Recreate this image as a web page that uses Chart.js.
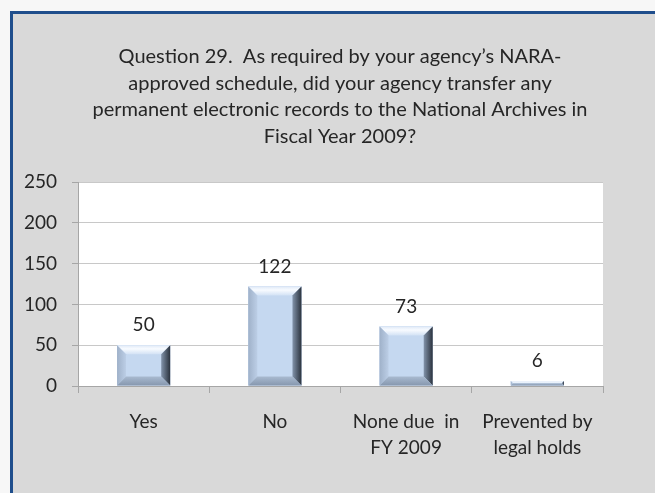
<!DOCTYPE html>
<html>
<head>
<meta charset="utf-8">
<script src="https://cdn.jsdelivr.net/npm/chart.js@4"></script>
<style>
  body { margin: 0; background: #f7f7f7; }
  #frame {
    position: absolute; left: 10px; top: 11px; width: 660px; height: 490px;
    background: #d9d9d9; border-top: 3px solid #1f4e8c; border-left: 3px solid #1f4e8c;
  }
  #wrap { position: absolute; left: 0; top: 0; width: 655px; height: 493px; }
</style>
</head>
<body>
<div id="frame"></div>
<div id="wrap"><canvas id="chart"></canvas></div>
<script>
const titleLines = [
  "Question 29.  As required by your agency\u2019s NARA-",
  "approved schedule, did your agency transfer any",
  "permanent electronic records to the National Archives in",
  "Fiscal Year 2009?"
];
const categories = ["Yes", "No", ["None due  in", "FY 2009"], ["Prevented by", "legal holds"]];
const counts = [50, 122, 73, 6];
const yTicks = [0, 50, 100, 150, 200, 250];

const FONT = "Lato, 'Open Sans', sans-serif";
const TEXT = "#262626";

// white plot area + title text centred on the frame
const plotBg = {
  id: "plotBg",
  beforeDraw(chart) {
    const { ctx, chartArea: a } = chart;
    ctx.save();
    ctx.fillStyle = "#ffffff";
    ctx.fillRect(a.left, a.top, a.right - a.left, a.bottom - a.top);
    ctx.fillStyle = TEXT;
    ctx.font = "20px " + FONT;
    ctx.textAlign = "center";
    ctx.textBaseline = "middle";
    titleLines.forEach((t, i) => ctx.fillText(t, 340, 57 + i * 26.4));
    ctx.restore();
  }
};

// bevelled bars + value labels
const bevel = {
  id: "bevel",
  afterDatasetsDraw(chart) {
    const ctx = chart.ctx;
    const meta = chart.getDatasetMeta(0);
    meta.data.forEach((bar, i) => {
      const p = bar.getProps(["x", "y", "base", "width"], true);
      const L = p.x - p.width / 2, R = p.x + p.width / 2, T = p.y, B = p.base;
      const h = B - T;
      const b = Math.min(9, h / 2, p.width / 2);
      ctx.save();
      ctx.fillStyle = "#c5d8f0";
      ctx.fillRect(L, T, R - L, h);
      const poly = (pts, fill) => {
        ctx.beginPath();
        ctx.moveTo(pts[0][0], pts[0][1]);
        pts.slice(1).forEach(q => ctx.lineTo(q[0], q[1]));
        ctx.closePath();
        ctx.fillStyle = fill;
        ctx.fill();
      };
      let g = ctx.createLinearGradient(0, T, 0, T + b);
      g.addColorStop(0, "#dfe9f7");
      g.addColorStop(0.4, "#f8fbff");
      g.addColorStop(1, "#d3e2f5");
      poly([[L, T], [R, T], [R - b, T + b], [L + b, T + b]], g);
      g = ctx.createLinearGradient(L, 0, L + b, 0);
      g.addColorStop(0, "#9fb1c9");
      g.addColorStop(1, "#bccee6");
      poly([[L, T], [L + b, T + b], [L + b, B - b], [L, B]], g);
      g = ctx.createLinearGradient(R - b, 0, R, 0);
      g.addColorStop(0, "#8293aa");
      g.addColorStop(1, "#2a323d");
      poly([[R, T], [R, B], [R - b, B - b], [R - b, T + b]], g);
      g = ctx.createLinearGradient(0, B - b, 0, B);
      g.addColorStop(0, "#a9bad0");
      g.addColorStop(1, "#8697ae");
      poly([[L, B], [R, B], [R - b, B - b], [L + b, B - b]], g);
      ctx.fillStyle = TEXT;
      ctx.font = "19px " + FONT;
      ctx.textAlign = "center";
      ctx.textBaseline = "middle";
      ctx.fillText(String(counts[i]), p.x, T - 20);
      ctx.restore();
    });
  }
};

new Chart(document.getElementById("chart"), {
  type: "bar",
  data: {
    labels: categories,
    datasets: [{
      data: counts,
      backgroundColor: "#c5d8f0",
      barPercentage: 0.405,
      categoryPercentage: 1
    }]
  },
  options: {
    responsive: true,
    maintainAspectRatio: false,
    animation: false,
    layout: { padding: { top: 182, right: 52, left: 0, bottom: 0 } },
    plugins: {
      legend: { display: false },
      tooltip: { enabled: false },
      title: { display: false }
    },
    scales: {
      x: {
        grid: { offset: true, drawOnChartArea: false, tickLength: 7, color: "#a6a6a6" },
        border: { color: "#a6a6a6" },
        ticks: { color: TEXT, font: { family: FONT, size: 19, lineHeight: 1.37 }, padding: 16, maxRotation: 0 },
        afterFit(s) { s.height = 107; }
      },
      y: {
        min: 0,
        max: 250,
        afterBuildTicks(s) { s.ticks = yTicks.map(v => ({ value: v })); },
        grid: { color: "#c8c8c8", tickLength: 6, tickColor: "#a6a6a6" },
        border: { color: "#a6a6a6" },
        ticks: { color: TEXT, font: { family: FONT, size: 19 }, padding: 15 },
        afterFit(s) { s.width = 78; }
      }
    }
  },
  plugins: [plotBg, bevel]
});
</script>
</body>
</html>
